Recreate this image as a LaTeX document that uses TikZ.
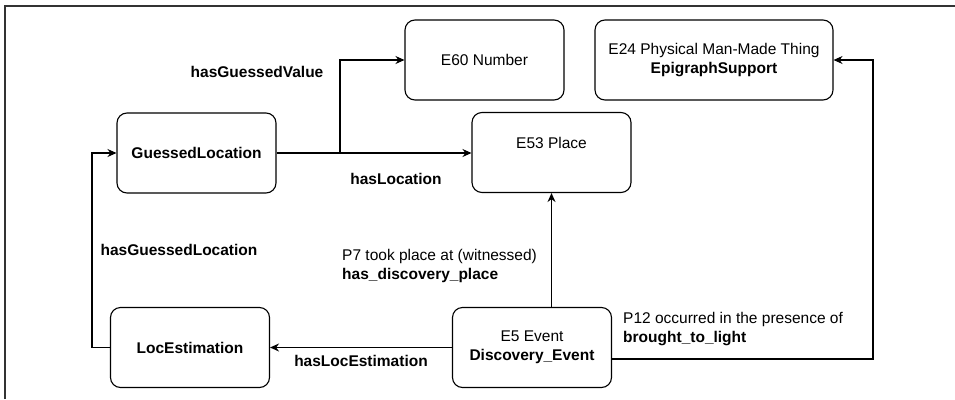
\documentclass[tikz,border=0pt]{standalone}
\usepackage{fontspec}
\setmainfont{Liberation Sans}
\usetikzlibrary{arrows.meta}
\begin{document}
\begin{tikzpicture}[x=1pt,y=-1pt,
  box/.style={draw, rounded corners=10pt, line width=1.1pt, minimum width=159pt, minimum height=80pt, align=center, inner sep=0pt, font=\fontsize{15.5}{19}\selectfont},
  lbl/.style={font=\fontsize{15.5}{19}\selectfont, inner sep=0pt, align=left},
  arr/.style={line width=1.1pt, -{Stealth[length=9pt,width=8pt]}}]
\useasboundingbox (0,0) rectangle (955,399);
\draw[line width=1.4pt, black!80] (5,399) -- (5,6) -- (955,6);
% nodes
\node[box] (gl) at (196.5,153) {\textbf{GuessedLocation}};
\node[box] (num) at (484.5,60) {E60 Number};
\node[box] (place) at (551.5,152.5) {E53 Place\\\mbox{}};
\node[box, minimum width=238pt] (e24) at (714,60) {E24 Physical Man-Made Thing\\\textbf{EpigraphSupport}};
\node[box] (loc) at (190,347.5) {\textbf{LocEstimation}};
\node[box] (ev) at (532,347.5) {E5 Event\\\textbf{Discovery\_Event}};
% connectors
\coordinate (br) at (340,153);
\coordinate (rc) at (873,60);
\draw[arr] (gl.east) -- (gl.east -| place.west);
\draw[arr] (br) |- (num.west);
\draw[arr] (loc.west) -- ++(-18,0) |- (gl.west);
\draw[arr] (ev.west) -- (loc.east);
\draw[arr] (place.south |- ev.north) -- (place.south);
\draw[arr] ([yshift=-11.5pt]ev.east) -| (rc) -- (e24.east);
% labels
\node[lbl] (l1) at (257,72) {\textbf{hasGuessedValue}};
\node[lbl] (l2) at (396,179) {\textbf{hasLocation}};
\node[lbl] (l3) at (179,250) {\textbf{hasGuessedLocation}};
\node[lbl, anchor=west] (l4) at (342,266) {P7 took place at (witnessed)\\\textbf{has\_discovery\_place}};
\node[lbl] (l5) at (361,361) {\textbf{hasLocEstimation}};
\node[lbl, anchor=west] (l6) at (623,329.5) {P12 occurred in the presence of\\\textbf{brought\_to\_light}};
\end{tikzpicture}
\end{document}
